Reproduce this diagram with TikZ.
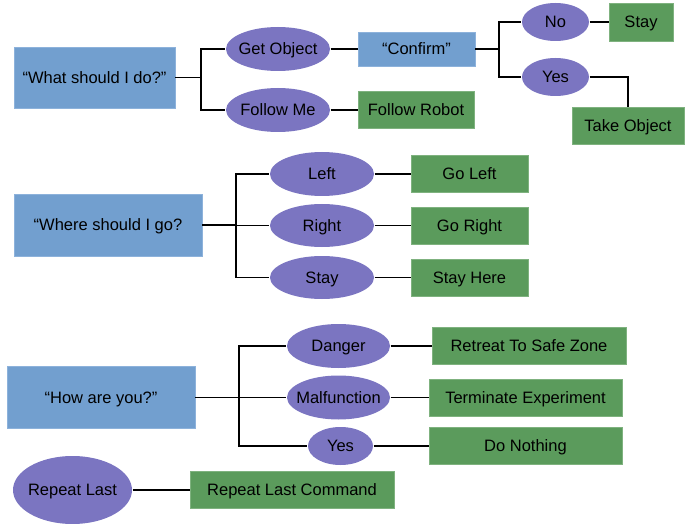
\documentclass[tikz,border=0pt]{standalone}
\usepackage{fontspec}
\setmainfont{Liberation Sans}
\usetikzlibrary{shapes.geometric}
\definecolor{askblue}{HTML}{729FCF}
\definecolor{askedge}{HTML}{8DB2DB}
\definecolor{choicepurple}{HTML}{7B75C1}
\definecolor{actgreen}{HTML}{5B9B5C}
\definecolor{actedge}{HTML}{7FB27F}

\begin{document}
\begin{tikzpicture}[x=1pt, y=-1pt, line width=1.3pt,
  every node/.style={font=\fontsize{16.5}{19}\selectfont, inner sep=0pt, text height=11.8pt, text depth=0pt},
  ask/.style={rectangle, fill=askblue, draw=askedge, line width=0.7pt},
  choice/.style={ellipse, fill=choicepurple,
    execute at begin node={\hbox to 0pt\bgroup\hss}, execute at end node={\hss\egroup}},
  act/.style={rectangle, fill=actgreen, draw=actedge, line width=0.7pt}]
  \useasboundingbox (0,0) rectangle (694,524);
  \coordinate (j1) at (201,77.5);
  \coordinate (j2) at (499,49);
  \coordinate (j3) at (236,225);
  \coordinate (j4) at (239,397.5);
  \node[ask, minimum width=161pt, minimum height=61pt] (whatdo) at (94.5,77.5) {“What should I do?”};
  \node[choice, minimum width=104pt, minimum height=44pt] (getobj) at (278,49) {Get Object};
  \node[choice, minimum width=104pt, minimum height=44pt] (followme) at (278,110) {Follow Me};
  \node[ask, minimum width=117pt, minimum height=34pt] (confirm) at (416.5,49) {“Confirm”};
  \node[act, minimum width=116pt, minimum height=37pt] (followrobot) at (416,110) {Follow Robot};
  \node[choice, minimum width=67pt, minimum height=38pt] (no) at (555.5,22) {No};
  \node[choice, minimum width=67pt, minimum height=38pt] (yes) at (555.5,77) {Yes};
  \node[act, minimum width=64pt, minimum height=38pt] (stay) at (641,22) {Stay};
  \node[act, minimum width=112pt, minimum height=37pt] (takeobj) at (628,125.5) {Take Object};
  \draw (whatdo) -- (j1);
  \draw (j1) |- (getobj);
  \draw (j1) |- (followme);
  \draw (getobj) -- (confirm);
  \draw (followme) -- (followrobot);
  \draw (confirm) -- (j2);
  \draw (j2) |- (no);
  \draw (j2) |- (yes);
  \draw (no) -- (stay);
  \draw (yes) -| (takeobj);
  \node[ask, minimum width=188pt, minimum height=62pt] (wherego) at (108,225) {“Where should I go?};
  \node[choice, minimum width=104pt, minimum height=44pt] (left) at (322,174) {Left};
  \node[choice, minimum width=104pt, minimum height=43pt] (right) at (322,225.5) {Right};
  \node[choice, minimum width=104pt, minimum height=43pt] (stayhere) at (322,277.5) {Stay};
  \node[act, minimum width=117pt, minimum height=37pt] (goleft) at (469.5,174) {Go Left};
  \node[act, minimum width=117pt, minimum height=37pt] (goright) at (469.5,225.5) {Go Right};
  \node[act, minimum width=117pt, minimum height=37pt] (stayact) at (469.5,277.5) {Stay Here};
  \draw (wherego) -- (j3);
  \draw (j3) |- (left);
  \draw (j3) |- (right);
  \draw (j3) |- (stayhere);
  \draw (left) -- (goleft);
  \draw (right) -- (goright);
  \draw (stayhere) -- (stayact);
  \node[ask, minimum width=188pt, minimum height=62pt] (howareyou) at (101,397.5) {“How are you?”};
  \node[choice, minimum width=103pt, minimum height=44pt] (danger) at (338.5,346) {Danger};
  \node[choice, minimum width=103pt, minimum height=44pt] (malfunction) at (338.5,397.5) {Malfunction};
  \node[choice, minimum width=65pt, minimum height=38pt] (fine) at (340.5,446) {Yes};
  \node[act, minimum width=194pt, minimum height=37pt] (retreat) at (529,346) {Retreat To Safe Zone};
  \node[act, minimum width=193pt, minimum height=37pt] (terminate) at (525.5,397.5) {Terminate Experiment};
  \node[act, minimum width=193pt, minimum height=37pt] (donothing) at (525.5,446) {Do Nothing};
  \draw (howareyou) -- (j4);
  \draw (j4) |- (danger);
  \draw (j4) |- (malfunction);
  \draw (j4) |- (fine);
  \draw (danger) -- (retreat);
  \draw (malfunction) -- (terminate);
  \draw (fine) -- (donothing);
  \node[choice, minimum width=119pt, minimum height=68pt] (repeat) at (72.5,490) {Repeat Last};
  \node[act, minimum width=204pt, minimum height=37pt] (repeatcmd) at (292,490) {Repeat Last Command};
  \draw (repeat) -- (repeatcmd);
\end{tikzpicture}
\end{document}
